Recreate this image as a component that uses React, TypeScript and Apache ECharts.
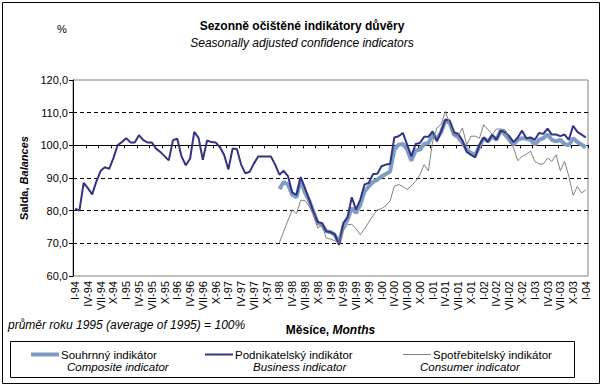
import React, { useEffect, useRef } from 'react';
import * as echarts from 'echarts';

const monthNames = ['I', 'II', 'III', 'IV', 'V', 'VI', 'VII', 'VIII', 'IX', 'X', 'XI', 'XII'];
const yearLabels = ['94', '95', '96', '97', '98', '99', '00', '01', '02', '03'];
const lastCategory = 'I-04';

const categories: string[] = [];
yearLabels.forEach((y) => monthNames.forEach((m) => categories.push(`${m}-${y}`)));
categories.push(lastCategory);

// Podnikatelský indikátor (I-94 .. I-04)
const business = [
  80.6, 80.0, 88.5, 86.9, 85.0, 89.0, 92.2, 93.3, 92.8, 96.1, 100.1, 101.0,
  102.2, 100.9, 100.9, 103.1, 101.6, 100.9, 100.9, 99.0, 98.0, 96.7, 95.4, 101.6,
  102.0, 96.6, 93.9, 95.9, 104.1, 102.3, 95.6, 101.5, 101.0, 100.9, 99.5, 97.1,
  92.6, 99.0, 98.9, 94.1, 91.4, 91.9, 94.4, 96.6, 96.6, 96.6, 96.6, 94.1,
  91.0, 92.2, 90.6, 85.6, 84.8, 90.3, 86.9, 83.4, 79.6, 76.5, 76.2, 73.7,
  73.4, 72.8, 69.5, 76.2, 78.0, 84.1, 80.3, 83.4, 88.0, 88.5, 91.2, 91.3,
  93.6, 94.1, 94.3, 102.4, 102.8, 103.8, 100.2, 96.6, 100.4, 100.7, 102.6, 102.6,
  104.3, 101.2, 104.3, 107.9, 107.6, 104.0, 103.5, 101.5, 98.0, 97.1, 96.3, 100.2,
  102.4, 101.0, 103.3, 101.7, 104.5, 104.1, 102.8, 101.0, 102.4, 104.5, 102.2, 102.4,
  101.7, 103.8, 103.5, 105.1, 103.3, 103.3, 102.8, 103.3, 101.7, 106.0, 104.1, 103.3,
  102.4,
];

// Souhrnný indikátor (I-98 .. I-04)
const compositeStart = 'I-98';
const composite = [
  86.6, 88.8, 88.0, 84.9, 84.1, 89.3, 85.5, 83.1, 79.6, 76.2, 75.7, 73.7,
  73.5, 72.6, 70.1, 75.2, 77.2, 80.8, 79.3, 81.8, 85.9, 87.4, 88.8, 89.5,
  90.5, 91.2, 92.0, 98.7, 100.2, 100.4, 98.7, 95.3, 98.4, 98.7, 100.4, 100.7,
  103.3, 102.0, 104.1, 107.6, 106.8, 103.3, 102.5, 100.8, 98.7, 97.7, 97.1, 99.7,
  102.2, 101.2, 102.8, 101.7, 104.5, 103.3, 101.7, 100.2, 101.7, 102.2, 102.0, 101.7,
  100.2, 101.7, 102.2, 103.3, 101.7, 101.2, 101.7, 100.4, 100.0, 102.2, 101.0, 100.2,
  99.4,
];

// Spotřebitelský indikátor (I-98 .. I-04)
const consumer = [
  70.2, 73.7, 77.0, 80.3, 79.0, 83.2, 83.1, 81.3, 78.8, 74.7, 75.5, 71.6,
  71.3, 70.8, 70.1, 74.0, 75.7, 75.8, 74.5, 72.6, 74.5, 76.5, 78.5, 80.3,
  80.6, 81.5, 83.0, 87.5, 88.0, 87.4, 86.5, 87.6, 89.0, 91.0, 94.1, 92.2,
  101.2, 105.3, 106.5, 110.4, 106.5, 103.0, 103.0, 105.3, 100.2, 102.8, 102.8, 102.2,
  106.3, 104.8, 103.3, 105.0, 105.0, 104.8, 101.7, 99.2, 95.3, 96.6, 97.3, 98.2,
  95.1, 94.3, 94.3, 96.1, 95.1, 97.1, 92.2, 95.1, 90.5, 84.7, 87.4, 85.4,
  86.4,
];

const seriesNames = ['Souhrnný indikátor', 'Podnikatelský indikátor', 'Spotřebitelský indikátor'];
const seriesNamesEn = ['Composite indicator', 'Business indicator', 'Consumer indicator'];
const seriesColors = ['#7f9cc4', '#333383', '#808080'];
const seriesWidths = [4, 2, 1];

const yMin = 60;
const yMax = 120;
const yStep = 10;
const crossValue = 100;

const FONT = '"Liberation Sans", Arial, sans-serif';

export default function App() {
  const ref = useRef<HTMLDivElement>(null);

  useEffect(() => {
    if (!ref.current) return;
    const chart = echarts.init(ref.current, null, { renderer: 'svg' });

    const gridLeft = 73;
    const gridTop = 80;
    const gridWidth = 515;
    const gridHeight = 196;
    const crossOffset = -(gridHeight * (yMax - crossValue)) / (yMax - yMin);

    const startIdx = categories.indexOf(compositeStart);
    const lateCats = categories.slice(startIdx);

    const textBase = { fontFamily: FONT, color: '#000' };

    chart.setOption({
      animation: false,
      backgroundColor: '#fff',
      textStyle: { fontFamily: FONT },
      title: {
        text: 'Sezonně očištěné indikátory důvěry',
        subtext: 'Seasonally adjusted confidence indicators',
        left: 'center',
        top: 15,
        itemGap: 5,
        textStyle: { ...textBase, fontSize: 12, fontWeight: 'bold' },
        subtextStyle: { ...textBase, fontSize: 12, fontStyle: 'italic' },
      },
      grid: {
        left: gridLeft,
        top: gridTop,
        width: gridWidth,
        height: gridHeight,
        show: true,
        borderColor: '#808080',
        borderWidth: 1,
        backgroundColor: '#fff',
      },
      legend: seriesNames.map((n, i) => ({
        data: [{ name: n, icon: 'rect' }],
        left: [31, 205, 403][i],
        top: 348.5,
        itemWidth: 28,
        itemHeight: seriesWidths[i],
        selectedMode: false,
        padding: 0,
        textStyle: { ...textBase, fontSize: 11.5, lineHeight: 11, padding: [0, 0, 0, -3] },
      })),
      xAxis: [
        {
          type: 'category',
          data: categories,
          position: 'bottom',
          axisLine: { show: false },
          axisTick: { show: false },
          axisLabel: {
            interval: 2,
            rotate: 90,
            fontSize: 11,
            margin: 5,
            color: '#000',
            fontFamily: FONT,
          },
          name: '{a|Měsíce, }{b|Months}',
          nameLocation: 'middle',
          nameGap: 48,
          nameTextStyle: {
            rich: {
              a: { fontFamily: FONT, fontSize: 12, fontWeight: 'bold', color: '#000' },
              b: { fontFamily: FONT, fontSize: 12, fontWeight: 'bold', fontStyle: 'italic', color: '#000' },
            },
          },
        },
        {
          type: 'category',
          data: categories,
          position: 'top',
          offset: crossOffset,
          axisLine: { show: true, lineStyle: { color: '#000', width: 1 } },
          axisTick: { show: true, interval: 2, inside: true, length: 3, lineStyle: { color: '#000' } },
          axisLabel: { show: false },
          splitLine: { show: false },
        },
      ],
      yAxis: {
        type: 'value',
        min: yMin,
        max: yMax,
        interval: yStep,
        axisLine: { show: true, lineStyle: { color: '#000', width: 1 } },
        axisTick: { show: true, length: 4, lineStyle: { color: '#000' } },
        axisLabel: {
          fontSize: 11,
          margin: 5,
          color: '#000',
          fontFamily: FONT,
          formatter: (v: number) => v.toFixed(1).replace('.', ','),
        },
        splitLine: {
          show: true,
          showMinLine: false,
          showMaxLine: false,
          lineStyle: { color: '#000', type: [4, 3], width: 1 },
        },
        name: '{a|Salda, }{b|Balances}',
        nameLocation: 'middle',
        nameGap: 41,
        nameRotate: 90,
        nameTextStyle: {
          rich: {
            a: { fontFamily: FONT, fontSize: 11, fontWeight: 'bold', color: '#000' },
            b: { fontFamily: FONT, fontSize: 11, fontWeight: 'bold', fontStyle: 'italic', color: '#000' },
          },
        },
      },
      series: [
        {
          name: seriesNames[0],
          type: 'line',
          xAxisIndex: 0,
          symbol: 'none',
          data: lateCats.map((c, i) => [c, composite[i]]),
          lineStyle: { color: seriesColors[0], width: seriesWidths[0] },
          itemStyle: { color: seriesColors[0] },
          z: 3,
        },
        {
          name: seriesNames[1],
          type: 'line',
          xAxisIndex: 0,
          symbol: 'none',
          data: business,
          lineStyle: { color: seriesColors[1], width: seriesWidths[1] },
          itemStyle: { color: seriesColors[1] },
          z: 4,
        },
        {
          name: seriesNames[2],
          type: 'line',
          xAxisIndex: 0,
          symbol: 'none',
          data: lateCats.map((c, i) => [c, consumer[i]]),
          lineStyle: { color: seriesColors[2], width: seriesWidths[2] },
          itemStyle: { color: seriesColors[2] },
          z: 5,
        },
      ],
      graphic: [
        {
          type: 'rect',
          shape: { x: 2.5, y: 2.5, width: 597, height: 381 },
          style: { fill: 'none', stroke: '#000', lineWidth: 1 },
          silent: true,
        },
        {
          type: 'rect',
          shape: { x: 10.5, y: 341.5, width: 564, height: 36 },
          style: { fill: 'none', stroke: '#000', lineWidth: 1 },
          silent: true,
        },
        {
          type: 'text',
          x: 62,
          y: 29,
          style: { text: '%', ...textBase, fill: '#000', fontSize: 11, align: 'center', verticalAlign: 'middle' },
        },
        {
          type: 'text',
          x: 8,
          y: 325,
          style: {
            text: 'průměr roku 1995 (average of 1995) = 100%',
            fontFamily: FONT,
            fill: '#000',
            fontSize: 12,
            fontStyle: 'italic',
            verticalAlign: 'middle',
          },
        },
        ...seriesNamesEn.map((t, i) => ({
          type: 'text',
          x: [67, 253, 420][i],
          y: 367,
          style: {
            text: t,
            fontFamily: FONT,
            fill: '#000',
            fontSize: 11.5,
            lineHeight: 11,
            fontStyle: 'italic',
            verticalAlign: 'middle',
          },
        })),
      ],
    });

    return () => chart.dispose();
  }, []);

  return (
    <div
      ref={ref}
      style={{ position: 'fixed', left: 0, top: 0, width: 604, height: 387, background: '#fff' }}
    />
  );
}
